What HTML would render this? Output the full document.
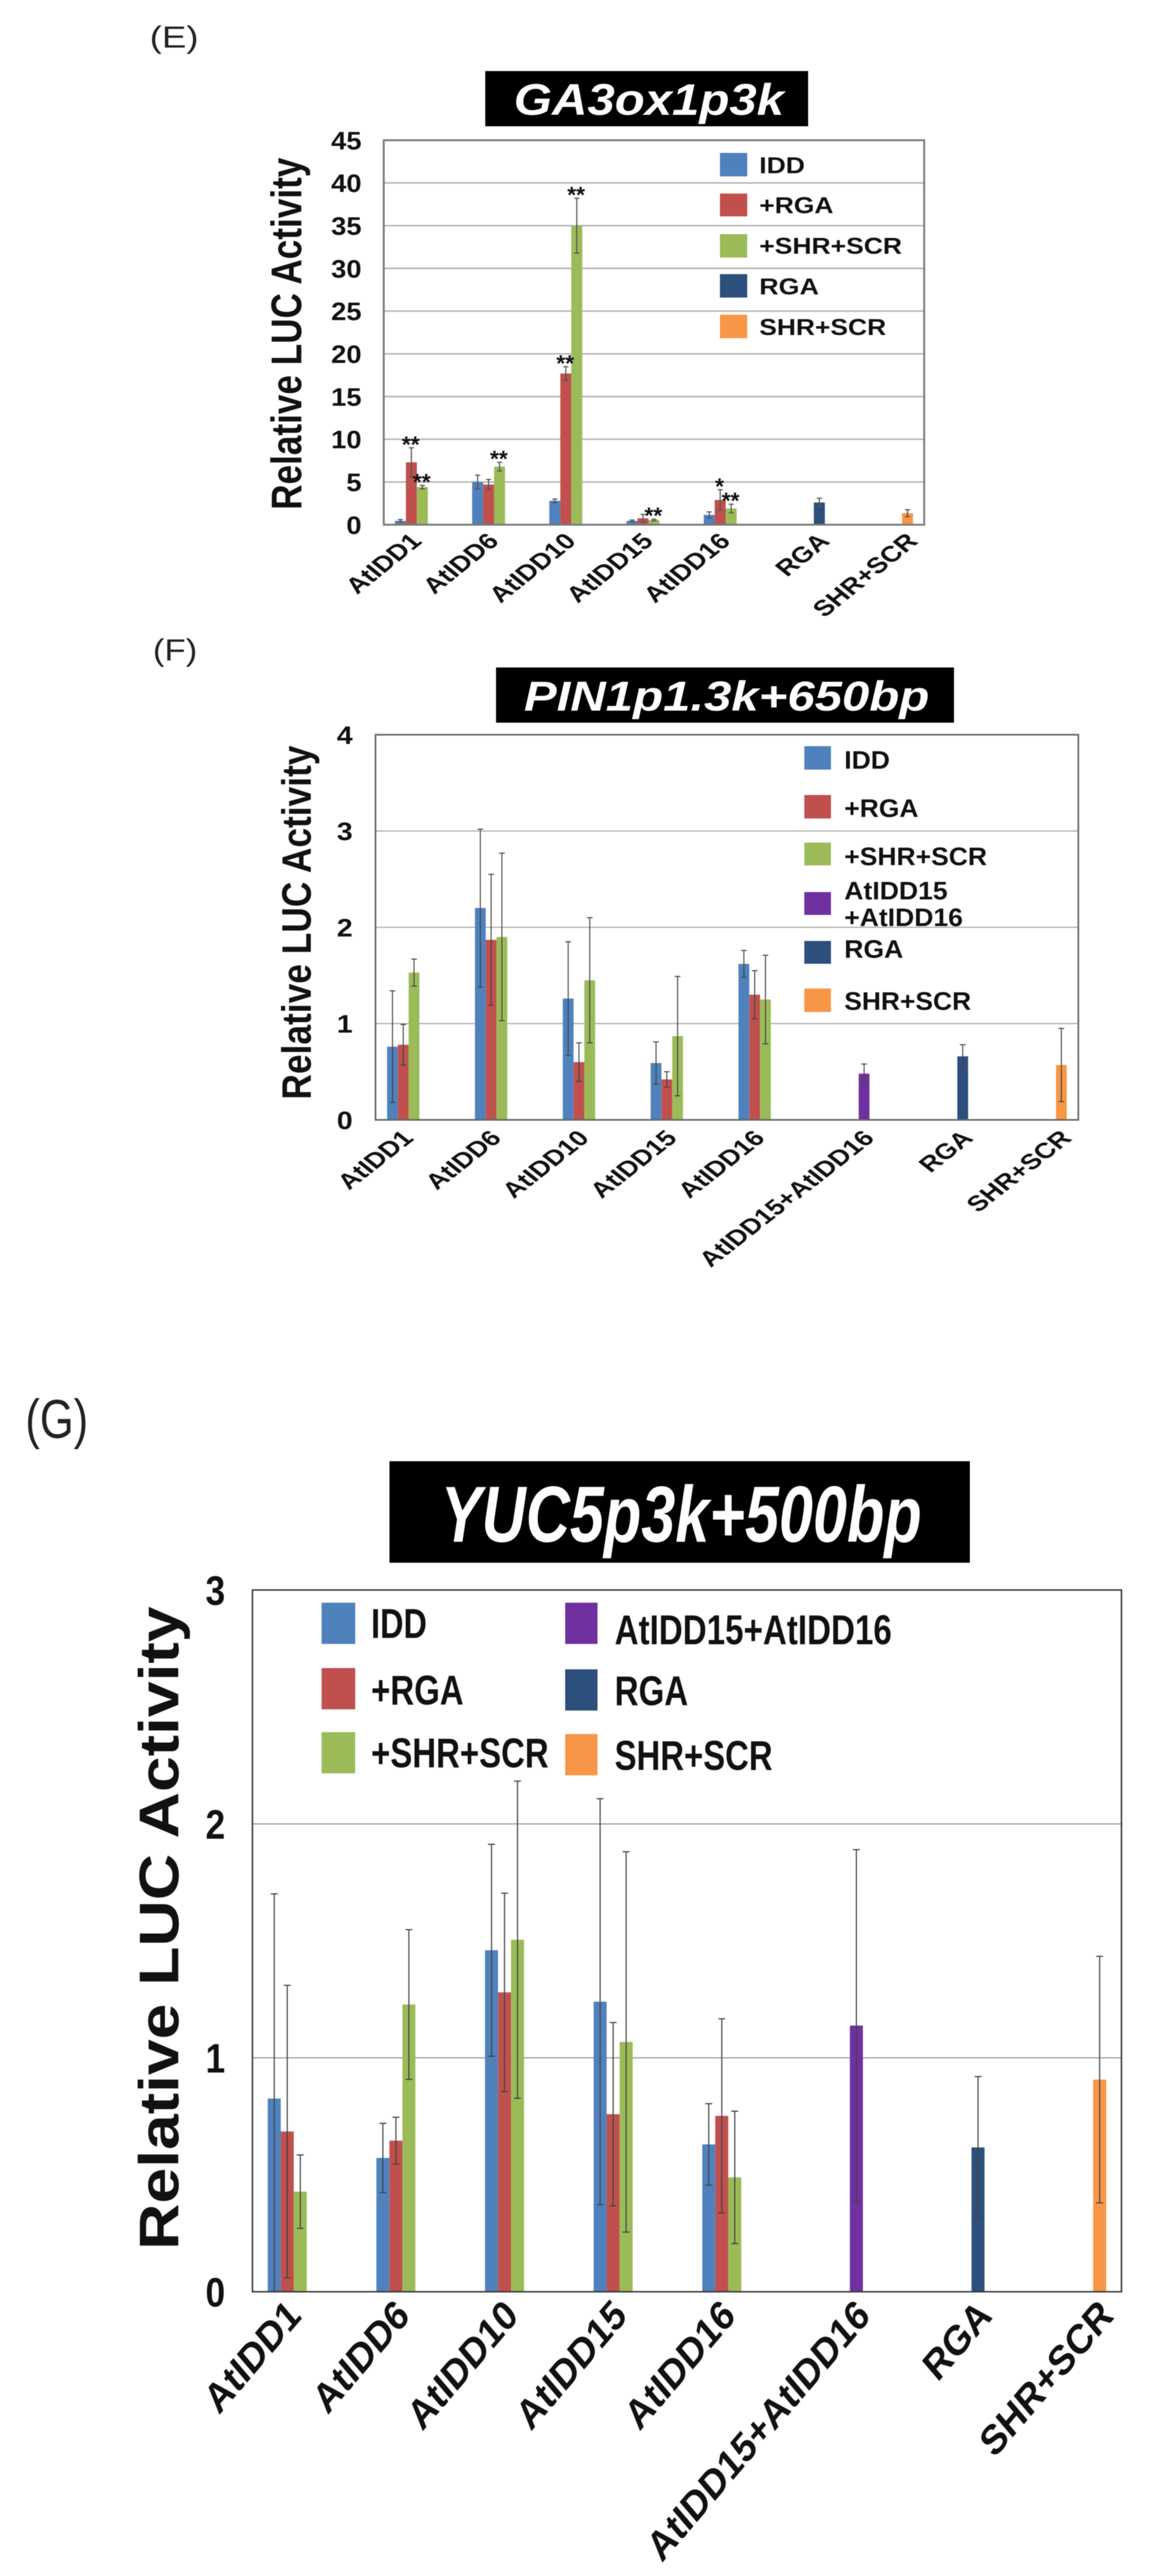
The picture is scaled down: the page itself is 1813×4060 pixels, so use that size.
<!DOCTYPE html>
<html lang="en">
<head>
<meta charset="utf-8">
<title>Relative LUC Activity charts</title>
<style>
html,body{margin:0;padding:0;background:#fff;}
svg{display:block;filter:blur(0.6px);}
text{font-family:"Liberation Sans",Arial,sans-serif;}
</style>
</head>
<body>
<svg id="figure" xmlns="http://www.w3.org/2000/svg" width="1813" height="4060" viewBox="0 0 1813 4060"></svg>
<script>
/* ---------- Panel E data ---------- */
const eCategories = ['AtIDD1','AtIDD6','AtIDD10','AtIDD15','AtIDD16','RGA','SHR+SCR'];
const eSeriesNames = ['IDD','+RGA','+SHR+SCR','RGA','SHR+SCR'];
const eTicks = [0,5,10,15,20,25,30,35,40,45];
const eIdd = [0.45,5.0,2.8,0.45,1.15,null,null];
const eIddErr = [0.15,0.8,0.2,0.1,0.35,null,null];
const eRga = [7.3,4.7,17.7,0.75,2.9,null,null];
const eRgaErr = [1.7,0.6,0.8,0.45,1.2,null,null];
const eShr = [4.4,6.8,35,0.55,1.9,null,null];
const eShrErr = [0.2,0.5,3.2,0.1,0.5,null,null];
const eRgaOnly = [null,null,null,null,null,2.6,null];
const eRgaOnlyErr = [null,null,null,null,null,0.5,null];
const eShrOnly = [null,null,null,null,null,null,1.35];
const eShrOnlyErr = [null,null,null,null,null,null,0.4];
const eRgaStars = ['**','','**','','*','',''];
const eShrStars = ['**','**','**','**','**','',''];

/* ---------- Panel F data ---------- */
const fCategories = ['AtIDD1','AtIDD6','AtIDD10','AtIDD15','AtIDD16','AtIDD15+AtIDD16','RGA','SHR+SCR'];
const fSeriesNames = ['IDD','+RGA','+SHR+SCR','AtIDD15+AtIDD16','RGA','SHR+SCR'];
const fTicks = [0,1,2,3,4];
const fIdd = [0.76,2.2,1.26,0.59,1.62,null,null,null];
const fIddErr = [0.58,0.82,0.59,0.22,0.14,null,null,null];
const fRga = [0.78,1.87,0.6,0.42,1.3,null,null,null];
const fRgaErr = [0.21,0.68,0.2,0.08,0.25,null,null,null];
const fShr = [1.53,1.9,1.45,0.87,1.25,null,null,null];
const fShrErr = [0.14,0.87,0.65,0.62,0.46,null,null,null];
const fCombo = [null,null,null,null,null,0.48,null,null];
const fComboErr = [null,null,null,null,null,0.1,null,null];
const fRgaOnly = [null,null,null,null,null,null,0.66,null];
const fRgaOnlyErr = [null,null,null,null,null,null,0.12,null];
const fShrOnly = [null,null,null,null,null,null,null,0.57];
const fShrOnlyErr = [null,null,null,null,null,null,null,0.38];

/* ---------- Panel G data ---------- */
const gCategories = ['AtIDD1','AtIDD6','AtIDD10','AtIDD15','AtIDD16','AtIDD15+AtIDD16','RGA','SHR+SCR'];
const gSeriesNames = ['IDD','+RGA','+SHR+SCR','AtIDD15+AtIDD16','RGA','SHR+SCR'];
const gTicks = [0,1,2,3];
const gIdd = [0.826,0.572,1.46,1.24,0.63,null,null,null];
const gIddErr = [0.875,0.148,0.453,0.868,0.174,null,null,null];
const gRga = [0.685,0.646,1.28,0.759,0.752,null,null,null];
const gRgaErr = [0.625,0.1,0.424,0.392,0.415,null,null,null];
const gShr = [0.428,1.228,1.505,1.068,0.489,null,null,null];
const gShrErr = [0.157,0.32,0.678,0.813,0.283,null,null,null];
const gCombo = [null,null,null,null,null,1.138,null,null];
const gComboErr = [null,null,null,null,null,0.752,null,null];
const gRgaOnly = [null,null,null,null,null,null,0.617,null];
const gRgaOnlyErr = [null,null,null,null,null,null,0.303,null];
const gShrOnly = [null,null,null,null,null,null,null,0.907];
const gShrOnlyErr = [null,null,null,null,null,null,null,0.527];

const BLUE = '#4f81bd', RED = '#c0504d', GREEN = '#9bbb59', PURPLE = '#7030a0', NAVY = '#2c4f7c', ORANGE = '#f79646';

const svg = document.getElementById('figure');
const NS = 'http://www.w3.org/2000/svg';

function make(tag, attrs, parent) {
  const el = document.createElementNS(NS, tag);
  for (const k in attrs) el.setAttribute(k, attrs[k]);
  (parent || svg).appendChild(el);
  return el;
}
function kebab(s) {
  return s.toLowerCase().replace(/\+/g, ' plus ').trim().replace(/\s+/g, '-');
}
function label(parent, str, x, y, o) {
  const attrs = {x: x, y: y, 'font-size': o.size, fill: o.fill || '#111'};
  if (o.weight) attrs['font-weight'] = o.weight;
  if (o.italic) attrs['font-style'] = 'italic';
  if (o.anchor) attrs['text-anchor'] = o.anchor;
  if (o.len) { attrs.textLength = o.len; attrs.lengthAdjust = 'spacingAndGlyphs'; }
  if (o.rotate) attrs.transform = 'rotate(' + o.rotate + ' ' + x + ' ' + y + ')';
  if (o.transform) attrs.transform = o.transform;
  if (o.dy) attrs.dy = o.dy;
  const el = make('text', attrs, parent);
  el.textContent = str;
  return el;
}

function drawChart(c) {
  const g = make('g', {}, svg);
  
  

  const panel = label(g, c.panel.text, c.panel.x, c.panel.y, {size: c.panel.size, len: c.panel.len, fill: '#222'});
  
  

  const tb = make('rect', {x: c.title.l, y: c.title.t, width: c.title.r - c.title.l, height: c.title.b - c.title.t, fill: '#000'}, g);
  
  
  const tt = label(g, c.title.text, c.title.x, c.title.y, {size: c.title.size, weight: 'bold', italic: true, fill: '#fff', len: c.title.len});
  
  

  const b = c.box;
  const yScale = v => b.b - (v / c.yMax) * (b.b - b.t);
  const catW = (b.r - b.l) / c.categories.length;
  const nS = c.seriesNames.length;
  const xScale = (cat, s) => b.l + catW * (cat + 0.5) + (s - (nS - 1) / 2) * c.barW;

  c.ticks.forEach(tick => {
    if (tick !== 0 && tick !== c.yMax) {
      const line = make('line', {x1: b.l, x2: b.r, y1: yScale(tick), y2: yScale(tick), stroke: c.gridColor, 'stroke-width': c.gridWidth}, g);
      
      
    }
    const str = String(tick);
    const tl = label(g, str, c.tickRight, yScale(tick) + c.tickSize * 0.358, {size: c.tickSize, weight: 'bold', anchor: 'end', len: c.tickDigit * str.length});
    
    
  });

  const yt = label(g, 'Relative LUC Activity', c.yTitle.x, c.yTitle.y, {size: c.yTitle.size, weight: 'bold', anchor: 'middle', len: c.yTitle.len, rotate: -90});
  
  

  c.means.forEach((series, s) => {
    series.forEach((v, cat) => {
      if (v === null) return;
      const cx = xScale(cat, s);
      const bar = make('rect', {x: cx - c.barW / 2, y: yScale(v), width: c.barW, height: b.b - yScale(v), fill: c.colors[s]}, g);
      
      
    });
  });

  c.means.forEach((series, s) => {
    series.forEach((v, cat) => {
      if (v === null) return;
      const cx = xScale(cat, s);
      const top = v + c.errs[s][cat];
      const low = Math.max(0, v - c.errs[s][cat]);
      const stem = make('line', {x1: cx, x2: cx, y1: yScale(top), y2: yScale(low), stroke: c.errColor, 'stroke-width': c.errWidth}, g);
      
      
      [top, low].forEach(val => {
        const cap = make('line', {x1: cx - c.capW, x2: cx + c.capW, y1: yScale(val), y2: yScale(val), stroke: c.errColor, 'stroke-width': c.errWidth}, g);
        
        
      });
      const stars = c.stars && c.stars[s] ? c.stars[s][cat] : '';
      if (stars) {
        const st = label(g, stars, cx - 1, yScale(top) - 13 + 20, {size: 36, weight: 'bold', anchor: 'middle'});
        
        
      }
    });
  });

  const frame = make('rect', {x: b.l, y: b.t, width: b.r - b.l, height: b.b - b.t, fill: 'none', stroke: c.frameColor, 'stroke-width': c.frameWidth}, g);
  
  

  c.categories.forEach((name, cat) => {
    const used = c.means.map((series, s) => series[cat] === null ? null : xScale(cat, s)).filter(x => x !== null);
    const center = (used[0] + used[used.length - 1]) / 2;
    const tf = 'translate(' + (center + c.xLabel.dx) + ' ' + c.xLabel.y + ') scale(1 ' + c.xLabel.sy + ') rotate(-45)';
    const xl = label(g, name, 0, 0, {size: c.xLabel.size, weight: 'bold', anchor: 'end', transform: tf, dy: '.36em'});
    
    
  });

  c.legend.forEach(entry => {
    const sw = make('rect', {x: entry.sx, y: entry.sy, width: entry.sw, height: entry.sh, fill: entry.color}, g);
    
    
    entry.lines.forEach(line => {
      const lt = label(g, line.text, entry.tx, line.cy + c.legendSize * 0.358, {size: c.legendSize, weight: 'bold', len: line.len});
      
      
    });
  });
}

drawChart({
  id: 'chart-ga3ox1p3k',
  panel: {text: '(E)', x: 236, y: 75, size: 48, len: 77},
  title: {text: 'GA3ox1p3k', l: 765, t: 112, r: 1274, b: 199, x: 810, y: 181, size: 70, len: 426},
  box: {l: 605, t: 221, r: 1457, b: 827},
  yMax: 45, ticks: eTicks,
  categories: eCategories, seriesNames: eSeriesNames,
  colors: [BLUE, RED, GREEN, NAVY, ORANGE],
  means: [eIdd, eRga, eShr, eRgaOnly, eShrOnly],
  errs: [eIddErr, eRgaErr, eShrErr, eRgaOnlyErr, eShrOnlyErr],
  stars: [null, eRgaStars, eShrStars, null, null],
  barW: 17.3, capW: 4, errColor: '#555', errWidth: 1.8,
  gridColor: '#b4b4b4', gridWidth: 2.4, frameColor: '#7a7a7a', frameWidth: 3,
  tickRight: 570, tickSize: 40, tickDigit: 24,
  yTitle: {x: 475, y: 526, size: 68, len: 555},
  xLabel: {dx: 7, y: 846, size: 44, sy: 0.8},
  legendSize: 36,
  legend: [
    {color: BLUE, sx: 1135, sy: 241, sw: 43, sh: 37, tx: 1197, lines: [{text: 'IDD', cy: 260, len: 72}]},
    {color: RED, sx: 1135, sy: 305, sw: 43, sh: 36, tx: 1197, lines: [{text: '+RGA', cy: 323, len: 117}]},
    {color: GREEN, sx: 1135, sy: 369, sw: 43, sh: 37, tx: 1197, lines: [{text: '+SHR+SCR', cy: 387, len: 225}]},
    {color: NAVY, sx: 1135, sy: 432, sw: 43, sh: 37, tx: 1197, lines: [{text: 'RGA', cy: 451, len: 94}]},
    {color: ORANGE, sx: 1135, sy: 496, sw: 43, sh: 37, tx: 1197, lines: [{text: 'SHR+SCR', cy: 515, len: 200}]}
  ]
});

drawChart({
  id: 'chart-pin1p1-3k-650bp',
  panel: {text: '(F)', x: 241, y: 1041, size: 48, len: 70},
  title: {text: 'PIN1p1.3k+650bp', l: 782, t: 1052, r: 1504, b: 1139, x: 826, y: 1120, size: 66, len: 639},
  box: {l: 592, t: 1158, r: 1700, b: 1765},
  yMax: 4, ticks: fTicks,
  categories: fCategories, seriesNames: fSeriesNames,
  colors: [BLUE, RED, GREEN, PURPLE, NAVY, ORANGE],
  means: [fIdd, fRga, fShr, fCombo, fRgaOnly, fShrOnly],
  errs: [fIddErr, fRgaErr, fShrErr, fComboErr, fRgaOnlyErr, fShrOnlyErr],
  barW: 17, capW: 4.5, errColor: '#444', errWidth: 1.6,
  gridColor: '#a8a8a8', gridWidth: 1.8, frameColor: '#666', frameWidth: 2.6,
  tickRight: 556, tickSize: 40, tickDigit: 25,
  yTitle: {x: 490, y: 1454, size: 65, len: 558},
  xLabel: {dx: 7, y: 1787, size: 44, sy: 0.78},
  legendSize: 40,
  legend: [
    {color: BLUE, sx: 1268, sy: 1176, sw: 42, sh: 37, tx: 1331, lines: [{text: 'IDD', cy: 1197, len: 72}]},
    {color: RED, sx: 1268, sy: 1253, sw: 42, sh: 37, tx: 1331, lines: [{text: '+RGA', cy: 1273, len: 117}]},
    {color: GREEN, sx: 1268, sy: 1328, sw: 42, sh: 36, tx: 1331, lines: [{text: '+SHR+SCR', cy: 1349, len: 225}]},
    {color: PURPLE, sx: 1268, sy: 1406, sw: 42, sh: 36, tx: 1331, lines: [{text: 'AtIDD15', cy: 1403, len: 163}, {text: '+AtIDD16', cy: 1445, len: 187}]},
    {color: NAVY, sx: 1268, sy: 1483, sw: 42, sh: 36, tx: 1331, lines: [{text: 'RGA', cy: 1495, len: 93}]},
    {color: ORANGE, sx: 1268, sy: 1558, sw: 42, sh: 37, tx: 1331, lines: [{text: 'SHR+SCR', cy: 1577, len: 200}]}
  ]
});

drawChart({
  id: 'chart-yuc5p3k-500bp',
  panel: {text: '(G)', x: 40, y: 2266, size: 86, len: 99},
  title: {text: 'YUC5p3k+500bp', l: 614, t: 2303, r: 1529, b: 2463, x: 695, y: 2430, size: 125, len: 758},
  box: {l: 398, t: 2506, r: 1768, b: 3612},
  yMax: 3, ticks: gTicks,
  categories: gCategories, seriesNames: gSeriesNames,
  colors: [BLUE, RED, GREEN, PURPLE, NAVY, ORANGE],
  means: [gIdd, gRga, gShr, gCombo, gRgaOnly, gShrOnly],
  errs: [gIddErr, gRgaErr, gShrErr, gComboErr, gRgaOnlyErr, gShrOnlyErr],
  barW: 20.5, capW: 5.5, errColor: '#444', errWidth: 1.8,
  gridColor: '#9a9a9a', gridWidth: 1.8, frameColor: '#3c3c3c', frameWidth: 2.4,
  tickRight: 355, tickSize: 65, tickDigit: 31,
  yTitle: {x: 281, y: 3039, size: 88, len: 1014},
  xLabel: {dx: 10, y: 3636, size: 56, sy: 1.17},
  legendSize: 66,
  legend: [
    {color: BLUE, sx: 507, sy: 2526, sw: 53, sh: 65, tx: 585, lines: [{text: 'IDD', cy: 2558, len: 88}]},
    {color: RED, sx: 507, sy: 2629, sw: 53, sh: 65, tx: 585, lines: [{text: '+RGA', cy: 2663, len: 146}]},
    {color: GREEN, sx: 507, sy: 2730, sw: 53, sh: 65, tx: 585, lines: [{text: '+SHR+SCR', cy: 2762, len: 280}]},
    {color: PURPLE, sx: 891, sy: 2526, sw: 51, sh: 65, tx: 969, lines: [{text: 'AtIDD15+AtIDD16', cy: 2568, len: 437}]},
    {color: NAVY, sx: 891, sy: 2631, sw: 51, sh: 65, tx: 969, lines: [{text: 'RGA', cy: 2664, len: 116}]},
    {color: ORANGE, sx: 891, sy: 2733, sw: 51, sh: 65, tx: 969, lines: [{text: 'SHR+SCR', cy: 2766, len: 249}]}
  ]
});
</script>
</body>
</html>
